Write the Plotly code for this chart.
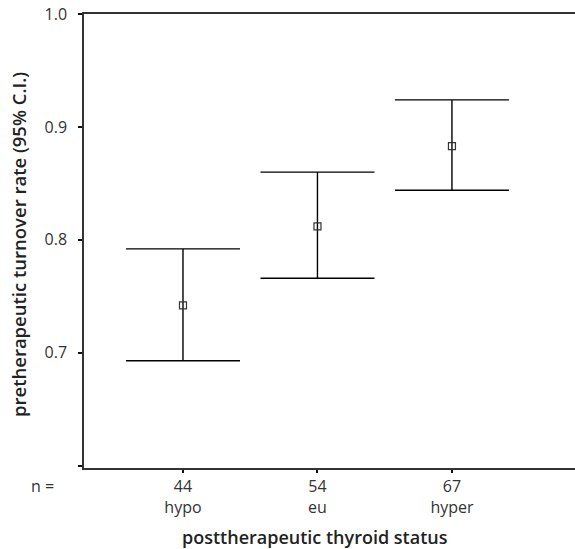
import plotly.graph_objects as go

groups = ["hypo", "eu", "hyper"]
n_counts = [44, 54, 67]
means = [0.742, 0.812, 0.883]
ci_upper = [0.792, 0.860, 0.924]
ci_lower = [0.693, 0.766, 0.844]

x_pos = [1, 2, 3]
err_plus = [u - m for u, m in zip(ci_upper, means)]
err_minus = [m - l for m, l in zip(means, ci_lower)]
tick_text = [f"{n}<br>{g}" for n, g in zip(n_counts, groups)]

font_family = "Open Sans, Lato, sans-serif"
txt_color = "#333333"
title_color = "#222222"

# plot area in pixels (for placing free text)
L, R, T, B = 84, 575, 14, 468
pw, ph = R - L, B - T

fig = go.Figure()
fig.add_trace(go.Scatter(
    x=x_pos, y=means, mode="markers",
    marker=dict(symbol="square-open", size=7, color="#333333", line=dict(width=1.2)),
    error_y=dict(type="data", symmetric=False, array=err_plus, arrayminus=err_minus,
                 color="black", thickness=1.4, width=57),
    showlegend=False,
))

fig.update_layout(
    width=575, height=549,
    margin=dict(l=L, r=575 - R, t=T, b=549 - B),
    plot_bgcolor="white", paper_bgcolor="white",
    font=dict(family=font_family, color=txt_color, size=16),
    xaxis=dict(
        range=[0.264, 3.915], tickvals=x_pos, ticktext=tick_text,
        showline=True, linecolor="#333333", linewidth=1.5, mirror=True,
        ticks="outside", ticklen=3, tickwidth=2, tickcolor="#111111",
        showgrid=False, zeroline=False,
        tickfont=dict(size=16, color=txt_color),
    ),
    yaxis=dict(
        range=[0.598, 1.0], tickvals=[0.6, 0.7, 0.8, 0.9, 1.0],
        ticktext=["", "0.7", "0.8", "0.9", "1.0"],
        showline=True, linecolor="#333333", linewidth=1.5,
        ticks="outside", ticklen=4, tickwidth=2, tickcolor="#111111",
        showgrid=False, zeroline=False,
        tickfont=dict(size=16, color=txt_color),
        ticklabelstandoff=8,
    ),
    annotations=[
        dict(text="n =", xref="paper", yref="paper",
             x=(42 - L) / pw, y=(B - 486) / ph,
             xanchor="center", yanchor="middle", showarrow=False,
             font=dict(size=16, color=txt_color)),
        dict(text="posttherapeutic thyroid status", xref="paper", yref="paper",
             x=(315 - L) / pw, y=(B - 537) / ph,
             xanchor="center", yanchor="middle", showarrow=False,
             font=dict(size=18, color=title_color, weight=600)),
        dict(text="pretherapeutic turnover rate (95% C.I.)", xref="paper", yref="paper",
             x=(18 - L) / pw, y=(B - 245) / ph, textangle=-90,
             xanchor="center", yanchor="middle", showarrow=False,
             font=dict(size=18.5, color=title_color, weight=600)),
    ],
)

fig.write_html("out.html")
